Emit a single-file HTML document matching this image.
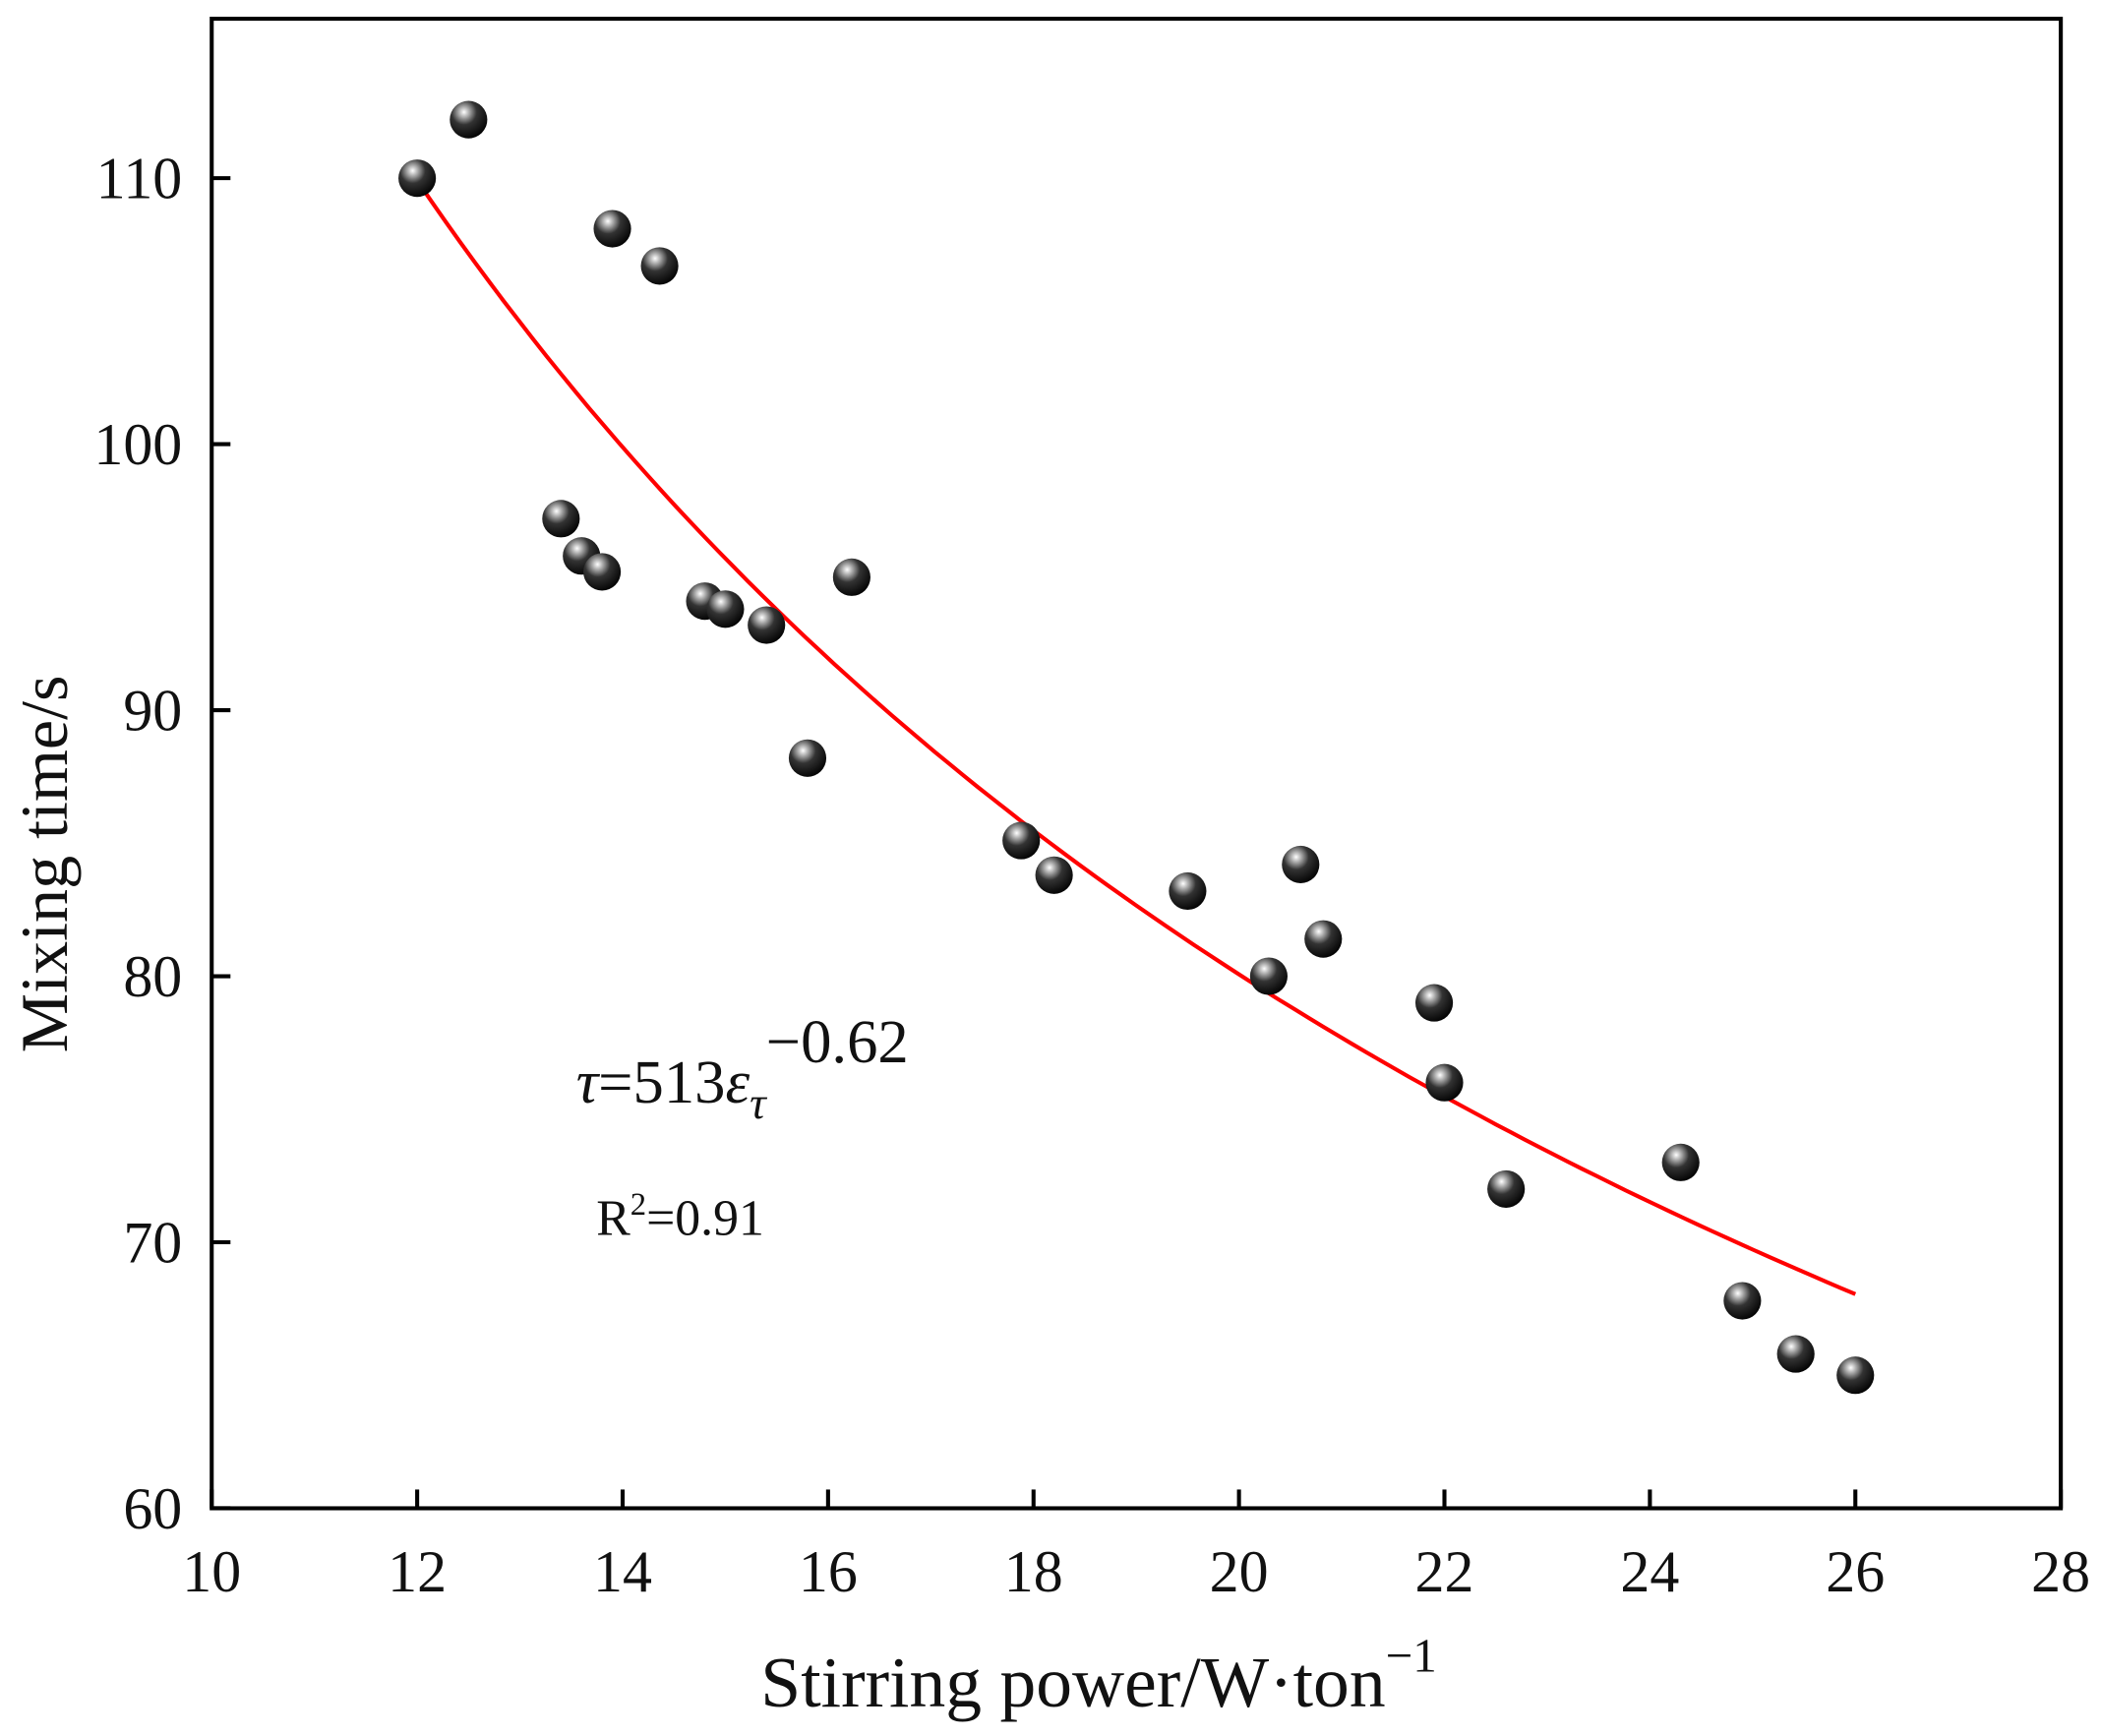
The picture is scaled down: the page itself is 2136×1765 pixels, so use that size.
<!DOCTYPE html>
<html><head><meta charset="utf-8"><style>
html,body{margin:0;padding:0;background:#fff}
svg{display:block}
text{font-family:"Liberation Serif",serif;fill:#111}
</style></head><body>
<svg id="chart" width="2136" height="1765" viewBox="0 0 1568 1296" preserveAspectRatio="none" xmlns="http://www.w3.org/2000/svg">
<defs>
<radialGradient id="ball" cx="0.38" cy="0.3" r="0.75">
<stop offset="0" stop-color="#fff"/>
<stop offset="0.15" stop-color="#bbb"/>
<stop offset="0.45" stop-color="#333"/>
<stop offset="1" stop-color="#000"/>
</radialGradient>
</defs>
<g id="axes"></g>
<path id="fit" fill="none" stroke="#f00" stroke-width="3"/>
<g id="pts"></g>
<text x="430" y="823" font-size="46" font-style="italic">τ<tspan font-style="normal">=513</tspan>ε<tspan font-size="34" dy="12">τ</tspan><tspan font-style="normal" dy="-42">−0.62</tspan></text>
<text x="445" y="922" font-size="38">R<tspan font-size="24" dy="-15">2</tspan><tspan dy="15">=0.91</tspan></text>
<text x="820" y="1274" font-size="54" text-anchor="middle">Stirring power/W·ton<tspan font-size="36" dy="-26">−1</tspan></text>
<text transform="translate(50,645) rotate(-90)" font-size="50" text-anchor="middle">Mixing time/s</text>
</svg>
<script>
const xTicks=[10,12,14,16,18,20,22,24,26,28];
const yTicks=[60,70,80,90,100,110];
const xs=[12,12.5,13.9,14.36,13.4,13.6,13.8,14.8,15.0,15.4,16.23,15.8,17.88,18.2,19.5,20.6,20.82,20.29,21.9,22.0,22.6,24.3,24.9,25.42,26.0];
const ys=[110,112.2,108.1,106.7,97.2,95.8,95.2,94.1,93.8,93.2,95.0,88.2,85.1,83.8,83.2,84.2,81.4,80.0,79.0,76.0,72.0,73.0,67.8,65.8,65.0];
const fitA=513, fitB=-0.62, fitX0=12, fitX1=26;
const L=158,R=1538,T=14,B=1126;
const X=v=>L+(v-10)/18*(R-L);
const Yf=v=>B-(v-60)*(B-133)/50;
const NS="http://www.w3.org/2000/svg";
function mk(t,a,p){const e=document.createElementNS(NS,t);for(const k in a)e.setAttribute(k,a[k]);p.appendChild(e);return e;}
const ax=document.getElementById('axes');
const frame=mk('rect',{x:L,y:T,width:R-L,height:B-T,fill:'none',stroke:'#000','stroke-width':3},ax);


xTicks.forEach(v=>{
 const l=mk('line',{x1:X(v),x2:X(v),y1:B,y2:B-14,stroke:'#000','stroke-width':3},ax);
 
 
 const t=mk('text',{x:X(v),y:B+62,'font-size':44,'text-anchor':'middle'},ax);
 t.textContent=v;
 
 
});
yTicks.forEach(v=>{
 const l=mk('line',{x1:L,x2:L+14,y1:Yf(v),y2:Yf(v),stroke:'#000','stroke-width':3},ax);
 
 
 const t=mk('text',{x:L-22,y:Yf(v)+15,'font-size':44,'text-anchor':'end'},ax);
 t.textContent=v;
 
 
});
let d='';
for(let i=0;i<=100;i++){const x=fitX0+(fitX1-fitX0)*i/100;const y=fitA*Math.pow(x,fitB);d+=(i?'L':'M')+X(x).toFixed(1)+','+Yf(y).toFixed(1);}
document.getElementById('fit').setAttribute('d',d);
const pg=document.getElementById('pts');
xs.forEach((x,i)=>{
 const c=mk('circle',{cx:X(x),cy:Yf(ys[i]),r:14,fill:'url(#ball)'},pg);
 
 
});
</script>
</body></html>
